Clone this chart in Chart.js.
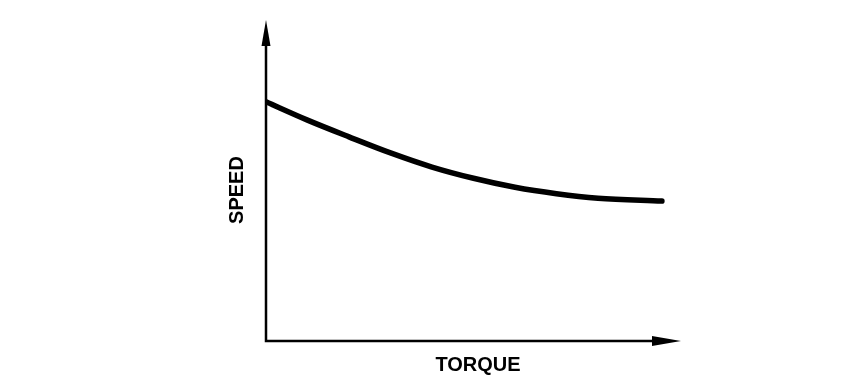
<!DOCTYPE html>
<html>
<head>
<meta charset="utf-8">
<script src="https://cdn.jsdelivr.net/npm/chart.js@4"></script>
<style>
  html, body { margin: 0; padding: 0; background: #fff; }
  #wrap { width: 862px; height: 392px; }
</style>
</head>
<body>
<div id="wrap"><canvas id="curva"></canvas></div>
<script>
// Curva velocidad / par (unidades relativas 0..100)
const torque = [0, 10, 20, 30, 40, 50, 60, 70, 80, 95.4];
const speed  = [74.5, 68.8, 63.6, 58.6, 54.2, 50.7, 47.9, 45.9, 44.5, 43.6];
const xLabel = 'TORQUE';
const yLabel = 'SPEED';

// Ejes con flechas y etiquetas
const ejes = {
    id: 'ejes',
    afterDatasetsDraw(chart) {
        const ctx = chart.ctx;
        const x = chart.scales.x, y = chart.scales.y;
        const x0 = x.getPixelForValue(0), x1 = x.getPixelForValue(100);
        const y0 = y.getPixelForValue(0), y1 = y.getPixelForValue(100);
        ctx.save();
        ctx.strokeStyle = '#000';
        ctx.fillStyle = '#000';
        ctx.lineWidth = 2.5;
        ctx.beginPath();
        ctx.moveTo(x0, y1 + 20);
        ctx.lineTo(x0, y0);
        ctx.lineTo(x1 - 20, y0);
        ctx.stroke();
        // flecha vertical
        ctx.beginPath();
        ctx.moveTo(x0, y1);
        ctx.lineTo(x0 - 4.5, y1 + 26);
        ctx.lineTo(x0 + 4.5, y1 + 26);
        ctx.closePath();
        ctx.fill();
        // flecha horizontal
        ctx.beginPath();
        ctx.moveTo(x1, y0);
        ctx.lineTo(x1 - 29, y0 - 5);
        ctx.lineTo(x1 - 29, y0 + 5);
        ctx.closePath();
        ctx.fill();
        // textos
        ctx.font = 'bold 20px "Liberation Sans", Arial, sans-serif';
        ctx.textAlign = 'center';
        ctx.textBaseline = 'middle';
        ctx.fillText(xLabel, 478, y0 + 24);
        ctx.translate(237, 190);
        ctx.rotate(-Math.PI / 2);
        ctx.fillText(yLabel, 0, 0);
        ctx.restore();
    }
};

new Chart(document.getElementById('curva'), {
    type: 'line',
    data: {
        datasets: [{
            data: torque.map((t, i) => ({ x: t, y: speed[i] })),
            borderColor: '#000',
            borderWidth: 5.5,
            borderCapStyle: 'round',
            pointRadius: 0,
            cubicInterpolationMode: 'monotone',
            fill: false
        }]
    },
    options: {
        responsive: true,
        maintainAspectRatio: false,
        animation: false,
        layout: { padding: { left: 266, right: 181, top: 20, bottom: 51 } },
        plugins: { legend: { display: false }, tooltip: { enabled: false } },
        scales: {
            x: { type: 'linear', min: 0, max: 100, display: false },
            y: { type: 'linear', min: 0, max: 100, display: false }
        }
    },
    plugins: [ejes]
});
</script>
</body>
</html>
